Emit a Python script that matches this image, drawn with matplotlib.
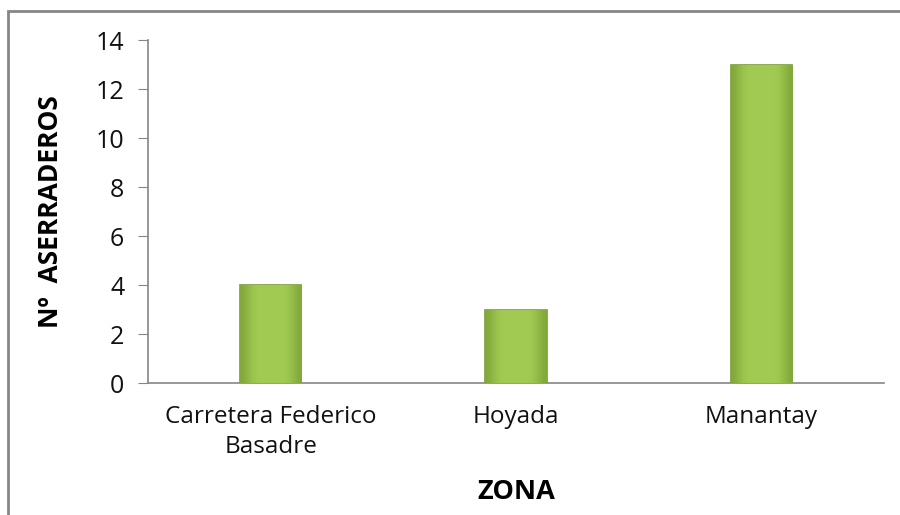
import numpy as np
import matplotlib.pyplot as plt
from matplotlib.colors import LinearSegmentedColormap
from matplotlib.patches import Rectangle

zonas = ["Carretera Federico\nBasadre", "Hoyada", "Manantay"]
aserraderos = [4, 3, 13]
y_ticks = [0, 2, 4, 6, 8, 10, 12, 14]

plt.rcParams["font.family"] = ["Open Sans", "DejaVu Sans"]

fig = plt.figure(figsize=(9, 5.15), dpi=100)
ax = fig.add_axes([0.1644, 0.2563, 0.8176, 0.666])

x = list(range(len(zonas)))
bars = ax.bar(x, aserraderos, width=0.25, color="#9cc74c", edgecolor="#7c9c38",
              linewidth=1.2, zorder=3)

# bevel-like shading inside each bar
shade = np.array([0.0, 0.6, 1.0, 1.0, 1.0, 1.0, 1.0, 1.0, 0.6, 0.0])
grad = np.tile(shade, (2, 1))
green = LinearSegmentedColormap.from_list("g", ["#82a83a", "#a0ca52"])
for b in bars:
    bx, bw, bh = b.get_x(), b.get_width(), b.get_height()
    im = ax.imshow(grad, extent=[bx, bx + bw, 0, bh], aspect="auto",
                   cmap=green, zorder=3.5, interpolation="bicubic")
    im.set_clip_path(b)

ax.set_xlim(-0.5, len(zonas) - 0.5)
ax.set_ylim(0, 14)
ax.set_yticks(y_ticks)
ax.set_xticks(x)
ax.set_xticklabels(zonas, fontsize=17.5, color="#111111", linespacing=1.3)
ax.tick_params(axis="y", labelsize=18, length=7, color="#868686",
               labelcolor="#111111", pad=10)
ax.tick_params(axis="x", length=0, pad=16)

for side in ["top", "right"]:
    ax.spines[side].set_visible(False)
for side in ["left", "bottom"]:
    ax.spines[side].set_color("#868686")
    ax.spines[side].set_linewidth(1.2)

ax.set_ylabel("Nº  ASERRADEROS", fontsize=19, fontweight="bold", labelpad=23)
ax.set_xlabel("ZONA", fontsize=19.5, fontweight="bold", labelpad=15)

# chart frame (cropped on right and bottom)
fig.patches.append(Rectangle((8 / 900, -0.1), 1.2, 1 - 11 / 515 + 0.1,
                             transform=fig.transFigure, fill=False,
                             edgecolor="#868686", linewidth=2))

fig.savefig("out.png", dpi=100)
